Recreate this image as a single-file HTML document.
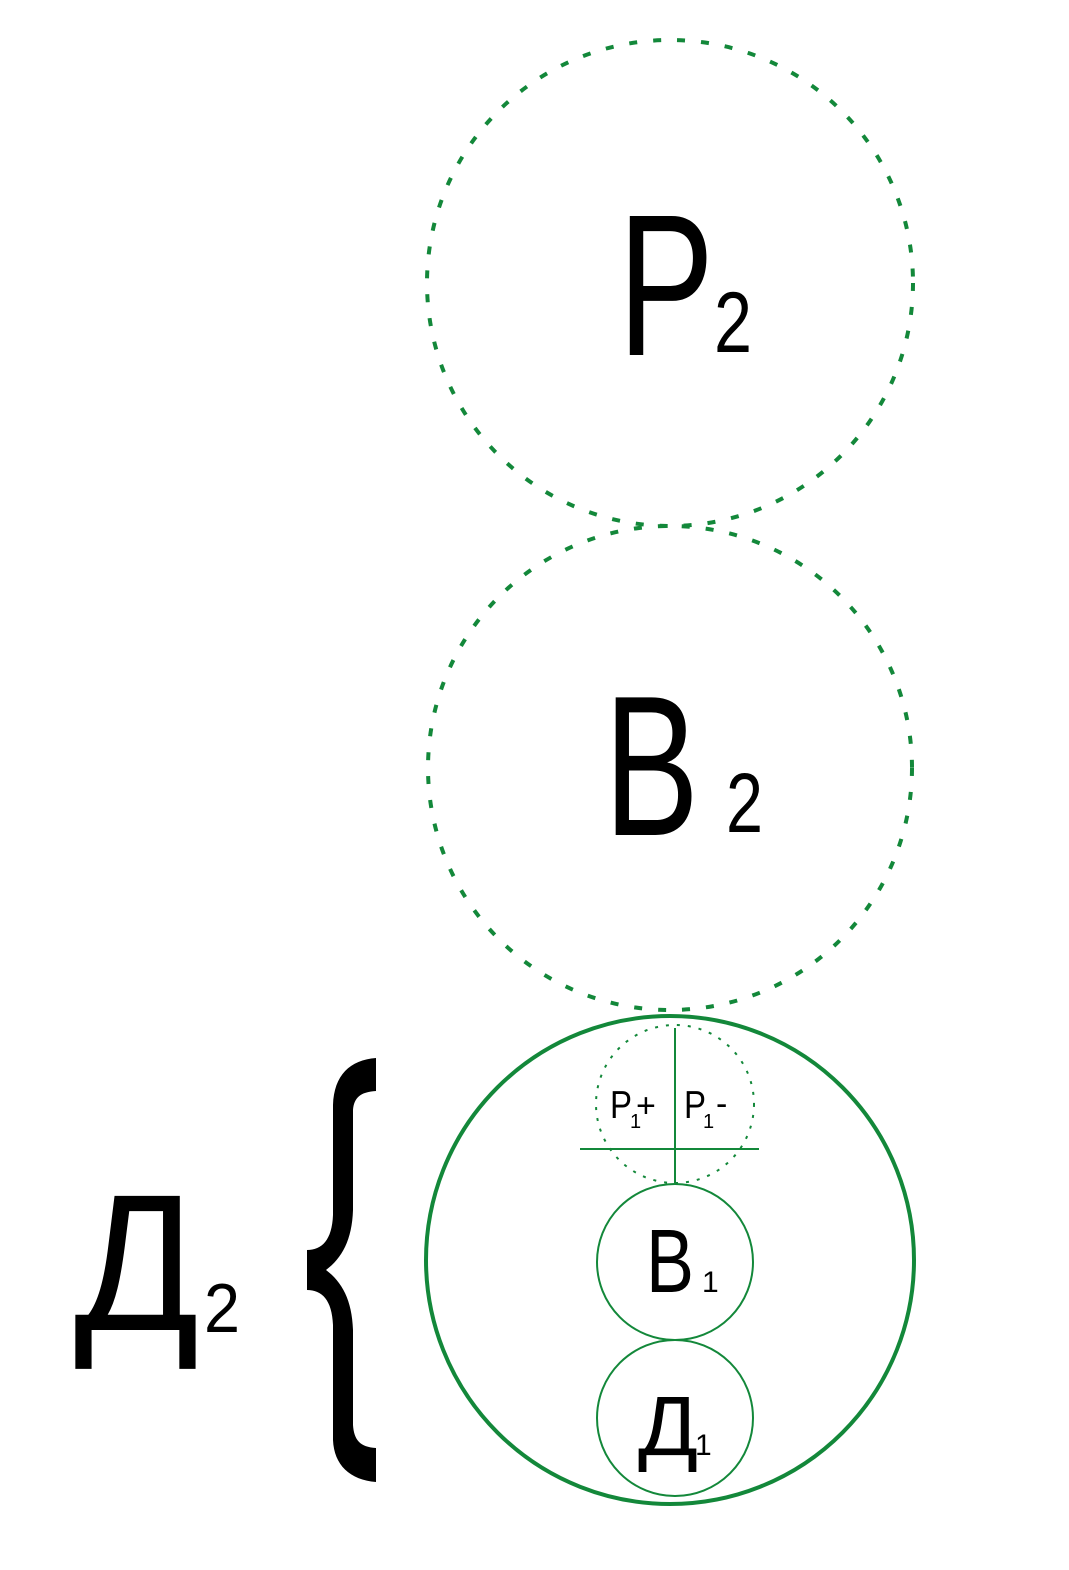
<!DOCTYPE html>
<html><head><meta charset="utf-8"><style>html,body{margin:0;padding:0;background:#fff}svg{display:block}</style></head>
<body>
<svg width="1069" height="1570" viewBox="0 0 1069 1570" xmlns="http://www.w3.org/2000/svg" font-family="Liberation Sans, DejaVu Sans, sans-serif">
<g fill="none" stroke="#13883a">
<circle cx="670" cy="283" r="243" stroke-width="4" stroke-dasharray="8 16"/>
<circle cx="670" cy="768" r="242" stroke-width="4" stroke-dasharray="8 16"/>
<circle cx="670" cy="1260" r="244" stroke-width="4"/>
<circle cx="675" cy="1104" r="79" stroke-width="2" stroke-dasharray="3 8"/>
<circle cx="675" cy="1262" r="78" stroke-width="2"/>
<circle cx="675" cy="1418" r="78" stroke-width="2"/>
<line x1="675" y1="1028" x2="675" y2="1183" stroke-width="2"/>
<line x1="580" y1="1149" x2="759" y2="1149" stroke-width="2"/>
</g>
<g fill="#000">
<text x="618" y="355" font-size="202" textLength="96" lengthAdjust="spacingAndGlyphs">P</text>
<text x="714" y="352" font-size="86" textLength="38" lengthAdjust="spacingAndGlyphs">2</text>
<text x="604" y="835" font-size="200" textLength="95" lengthAdjust="spacingAndGlyphs">B</text>
<text x="726" y="832" font-size="84" textLength="37" lengthAdjust="spacingAndGlyphs">2</text>
<text x="74" y="1330" font-size="195" textLength="125" lengthAdjust="spacingAndGlyphs">Д</text>
<text x="204" y="1332" font-size="70" textLength="36" lengthAdjust="spacingAndGlyphs">2</text>
<text x="646" y="1292" font-size="90" textLength="48" lengthAdjust="spacingAndGlyphs">B</text>
<text x="702" y="1292" font-size="30">1</text>
<text x="638" y="1455" font-size="84" textLength="60" lengthAdjust="spacingAndGlyphs">Д</text>
<text x="695" y="1455" font-size="30">1</text>
<text x="610" y="1118" font-size="39" textLength="22" lengthAdjust="spacingAndGlyphs">P</text>
<text x="630" y="1128" font-size="20">1</text>
<text x="636" y="1117" font-size="34">+</text>
<text x="684" y="1118" font-size="39" textLength="22" lengthAdjust="spacingAndGlyphs">P</text>
<text x="703" y="1128" font-size="20">1</text>
<text x="716" y="1115" font-size="34">-</text>
<path d="M376,1058 C350,1060 334,1075 333,1105 L333,1215 C332,1240 322,1250 307,1250 L307,1290 C322,1290 332,1300 333,1325 L333,1440 C334,1465 350,1480 376,1482 L376,1448 C360,1447 354,1440 353,1425 L353,1330 C352,1300 342,1282 326,1270 C342,1258 352,1240 353,1210 L353,1110 C354,1098 360,1092 376,1091 Z"/>
</g>
</svg>
</body></html>
